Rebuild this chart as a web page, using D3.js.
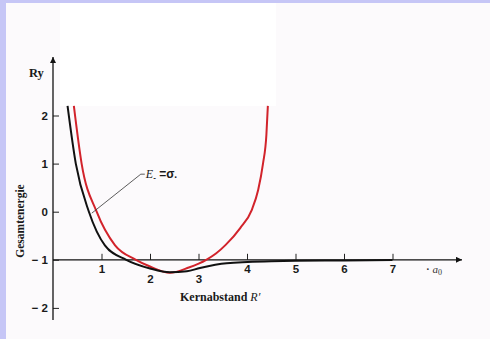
<!DOCTYPE html>
<html>
<head>
<meta charset="utf-8">
<script src="https://cdn.jsdelivr.net/npm/d3@7/dist/d3.min.js"></script>
<style>
  html, body { margin: 0; padding: 0; background: #fcfafc; }
  svg { display: block; }
</style>
</head>
<body>
<svg id="chart" width="490" height="339"></svg>
<script>
// Total energy of H2+ vs. internuclear distance (R' in units of a0, energy in Ry)
const xTicks = [1, 2, 3, 4, 5, 6, 7];
const yTicks = [-2, -1, 0, 1, 2];
const yTickLabels = ["\u2212 2", "\u2212 1", "0", "1", "2"];

// black curve: E- = sigma-
const blackR = [0.30, 0.47, 0.74, 1.07, 1.51, 2.00, 2.41, 2.76, 3.03, 3.58, 4.50, 5.00, 6.00, 7.00];
const blackE = [2.20, 1.00, 0.00, -0.70, -1.00, -1.18, -1.26, -1.24, -1.17, -1.07, -1.03, -1.02, -1.012, -1.006];

// red curve
const redR = [0.43, 0.59, 0.90, 1.28, 1.71, 2.00, 2.41, 2.80, 3.16, 3.36, 3.56, 3.86, 4.10, 4.23, 4.33, 4.40, 4.43];
const redE = [2.20, 1.00, 0.00, -0.70, -1.00, -1.14, -1.27, -1.16, -1.00, -0.87, -0.69, -0.34, 0.04, 0.45, 1.00, 1.60, 2.20];

const svg = d3.select("#chart");
const W = 490, H = 339;

// page framing
svg.append("rect").attr("x", 0).attr("y", 0).attr("width", W).attr("height", H).attr("fill", "#fcfafc");
svg.append("rect").attr("x", 60).attr("y", 3).attr("width", 216).attr("height", 103).attr("fill", "#ffffff");
svg.append("rect").attr("x", 0).attr("y", 0).attr("width", W).attr("height", 3).attr("fill", "#c6c6f6");
svg.append("rect").attr("x", 0).attr("y", 0).attr("width", 6).attr("height", H).attr("fill", "#c6c6f6");

const x = d3.scaleLinear().domain([0, 7]).range([53, 392.5]);
const y = d3.scaleLinear().domain([-1, 2]).range([259.8, 115.5]);

const serif = "'Liberation Serif', 'DejaVu Serif', serif";
const sans = "'Liberation Sans', Arial, sans-serif";

// arrow marker
const defs = svg.append("defs");
defs.append("marker")
  .attr("id", "arrow")
  .attr("viewBox", "0 0 10 10")
  .attr("refX", 10).attr("refY", 5)
  .attr("markerWidth", 9).attr("markerHeight", 6)
  .attr("markerUnits", "userSpaceOnUse")
  .attr("orient", "auto")
  .append("path").attr("d", "M0,0 L10,5 L0,10 Z").attr("fill", "#111");

// x axis (drawn at E = -1)
const xAxis = d3.axisBottom(x)
  .tickValues(xTicks)
  .tickFormat(d3.format("d"))
  .tickSizeInner(-6)
  .tickSizeOuter(0)
  .tickPadding(5);
const gx = svg.append("g").attr("transform", `translate(0,${y(-1)})`).call(xAxis);
gx.select(".domain").remove();
gx.selectAll(".tick line").attr("stroke", "#222").attr("stroke-width", 1);
// labels under the well are pushed below the curves
const lowered = new Set([2, 3]);
gx.selectAll(".tick text")
  .attr("fill", "#1a1a1a")
  .style("font-family", sans).style("font-size", "11.5px").style("font-weight", "bold")
  .attr("y", d => lowered.has(d) ? 15 : 5);

svg.append("line")
  .attr("x1", x(0)).attr("x2", 462)
  .attr("y1", y(-1)).attr("y2", y(-1))
  .attr("stroke", "#111").attr("stroke-width", 1.3)
  .attr("marker-end", "url(#arrow)");

// y axis
const yAxis = d3.axisLeft(y)
  .tickValues(yTicks)
  .tickFormat((d, i) => yTickLabels[i])
  .tickSizeInner(-6)
  .tickSizeOuter(0)
  .tickPadding(5);
const gy = svg.append("g").attr("transform", `translate(${x(0)},0)`).call(yAxis);
gy.select(".domain").remove();
gy.selectAll(".tick line").attr("stroke", "#222").attr("stroke-width", 1);
gy.selectAll(".tick text")
  .attr("fill", "#1a1a1a")
  .style("font-family", sans).style("font-size", "11.5px").style("font-weight", "bold");

svg.append("line")
  .attr("x1", x(0)).attr("x2", x(0))
  .attr("y1", 320).attr("y2", 57)
  .attr("stroke", "#111").attr("stroke-width", 1.3)
  .attr("marker-end", "url(#arrow)");

// curves
const line = d3.line().x(d => x(d[0])).y(d => y(d[1])).curve(d3.curveMonotoneX);
const black = blackR.map((r, i) => [r, blackE[i]]);
const red = redR.map((r, i) => [r, redE[i]]);

svg.append("path").datum(red)
  .attr("d", line).attr("fill", "none")
  .attr("stroke", "#d2232b").attr("stroke-width", 2);
svg.append("path").datum(black)
  .attr("d", line).attr("fill", "none")
  .attr("stroke", "#111").attr("stroke-width", 2);

// annotation E- = sigma-
const ax0 = x(0.80), ay0 = y(-0.03);
const ax1 = x(1.81), ay1 = y(0.78);
svg.append("path")
  .attr("d", `M${ax0},${ay0} L${ax1},${ay1} L${ax1 + 4},${ay1}`)
  .attr("fill", "none").attr("stroke", "#333").attr("stroke-width", 0.8);
const lab = svg.append("text").attr("x", ax1 + 5).attr("y", ay1 + 4).attr("fill", "#1a1a1a");
lab.append("tspan").text("E").style("font-family", serif).style("font-style", "italic").style("font-size", "12px");
lab.append("tspan").text("-").attr("dy", 2).style("font-family", sans).style("font-size", "8px").style("font-weight", "bold");
lab.append("tspan").text(" =\u03c3").attr("dy", -2).style("font-family", sans).style("font-size", "12px").style("font-weight", "bold");
lab.append("tspan").text(".").attr("dy", 0).style("font-family", sans).style("font-size", "10px").style("font-weight", "bold");

// axis titles
svg.append("text").attr("x", 29).attr("y", 77)
  .style("font-family", serif).style("font-size", "12.5px").style("font-weight", "bold")
  .attr("fill", "#1a1a1a").text("Ry");

svg.append("text")
  .attr("transform", "translate(24,221) rotate(-90)")
  .attr("text-anchor", "middle")
  .style("font-family", serif).style("font-size", "11.5px").style("font-weight", "bold")
  .attr("fill", "#1a1a1a").text("Gesamtenergie");

const xt = svg.append("text").attr("x", 180).attr("y", 301)
  .style("font-family", serif).style("font-size", "12px").style("font-weight", "bold")
  .attr("fill", "#1a1a1a");
xt.append("tspan").text("Kernabstand ");
xt.append("tspan").text("R\u2032").style("font-style", "italic").style("font-weight", "normal");

const unit = svg.append("text").attr("x", 426).attr("y", 273)
  .style("font-family", serif).style("font-size", "11px").attr("fill", "#333");
unit.append("tspan").text("\u00b7 ").style("font-weight", "bold");
unit.append("tspan").text("a").style("font-style", "italic");
unit.append("tspan").text("0").attr("dy", 2).style("font-size", "8px");
</script>
</body>
</html>
